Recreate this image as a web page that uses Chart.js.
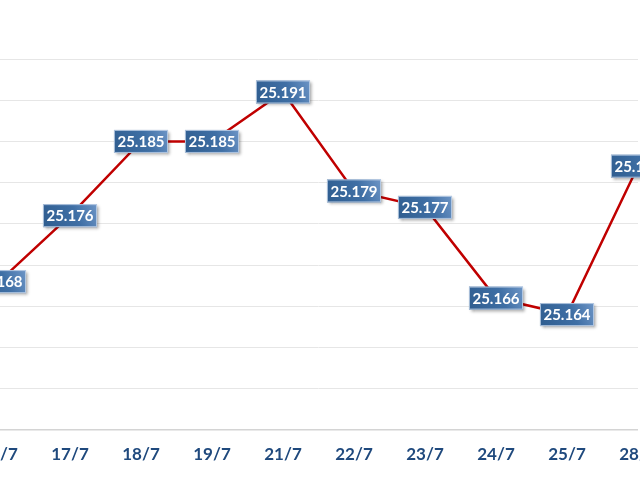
<!DOCTYPE html>
<html>
<head>
<meta charset="utf-8">
<script src="https://cdn.jsdelivr.net/npm/chart.js@4/dist/chart.umd.min.js"></script>
<style>
  html, body { margin: 0; padding: 0; background: #fff; overflow: hidden; }
  #wrap { position: absolute; left: -40px; top: 0; width: 720px; height: 480px; }
</style>
</head>
<body>
<div id="wrap"><canvas id="rateChart"></canvas></div>
<script>
// chart data
var days = ["16/7", "17/7", "18/7", "19/7", "21/7", "22/7", "23/7", "24/7", "25/7", "28/7"];
var rates = [25.168, 25.176, 25.185, 25.185, 25.191, 25.179, 25.177, 25.166, 25.164, 25.182];
var yMin = 25.15;
var yMax = 25.195;
var yStep = 0.005;

// blue boxes with the value on each point
var boxLabels = {
  id: "boxLabels",
  afterDatasetsDraw: function (chart) {
    var ctx = chart.ctx;
    var meta = chart.getDatasetMeta(0);
    ctx.save();
    ctx.font = "bold 15px Lato, 'Open Sans', sans-serif";
    ctx.textAlign = "center";
    ctx.textBaseline = "middle";
    meta.data.forEach(function (pt, i) {
      var txt = rates[i].toFixed(3);
      var w = ctx.measureText(txt).width + 7;
      var h = 23;
      var x = pt.x - w / 2;
      var y = pt.y - h / 2;
      var g = ctx.createLinearGradient(x, y + h, x + w, y);
      g.addColorStop(0, "#2f5d8f");
      g.addColorStop(0.6, "#3f6fa5");
      g.addColorStop(1, "#6d95c6");
      ctx.shadowColor = "rgba(0,0,0,0.35)";
      ctx.shadowBlur = 3;
      ctx.shadowOffsetX = 2;
      ctx.shadowOffsetY = 2;
      ctx.fillStyle = g;
      ctx.fillRect(x, y, w, h);
      ctx.shadowColor = "transparent";
      ctx.strokeStyle = "rgba(200,215,235,0.8)";
      ctx.lineWidth = 1;
      ctx.strokeRect(x + 0.5, y + 0.5, w - 1, h - 1);
      ctx.fillStyle = "#ffffff";
      ctx.fillText(txt, pt.x, pt.y + 1);
    });
    ctx.restore();
  }
};

var chart = new Chart(document.getElementById("rateChart"), {
  type: "line",
  data: {
    labels: days,
    datasets: [
      {
        data: rates,
        borderColor: "#c00000",
        borderWidth: 2.5,
        pointRadius: 0,
        tension: 0
      }
    ]
  },
  options: {
    responsive: true,
    maintainAspectRatio: false,
    animation: false,
    layout: { padding: { left: 39, right: 42, top: 59, bottom: 0 } },
    plugins: {
      legend: { display: false },
      tooltip: { enabled: false }
    },
    scales: {
      x: {
        grid: { display: false },
        border: { display: false },
        ticks: {
          color: "#1f497d",
          font: { family: "Lato, 'Open Sans', sans-serif", size: 17, weight: "bold" },
          padding: 6,
          maxRotation: 0,
          autoSkip: false
        },
        afterFit: function (scale) { scale.height = 50; }
      },
      y: {
        min: yMin,
        max: yMax,
        ticks: { display: false, stepSize: yStep },
        grid: {
          drawTicks: false,
          color: function (c) { return c.index === 0 ? "#d4d4d4" : "#e6e6e6"; },
          lineWidth: function (c) { return c.index === 0 ? 1.5 : 1; }
        },
        border: { display: false },
        afterFit: function (scale) { scale.width = 0; }
      }
    }
  },
  plugins: [boxLabels]
});
</script>
</body>
</html>
